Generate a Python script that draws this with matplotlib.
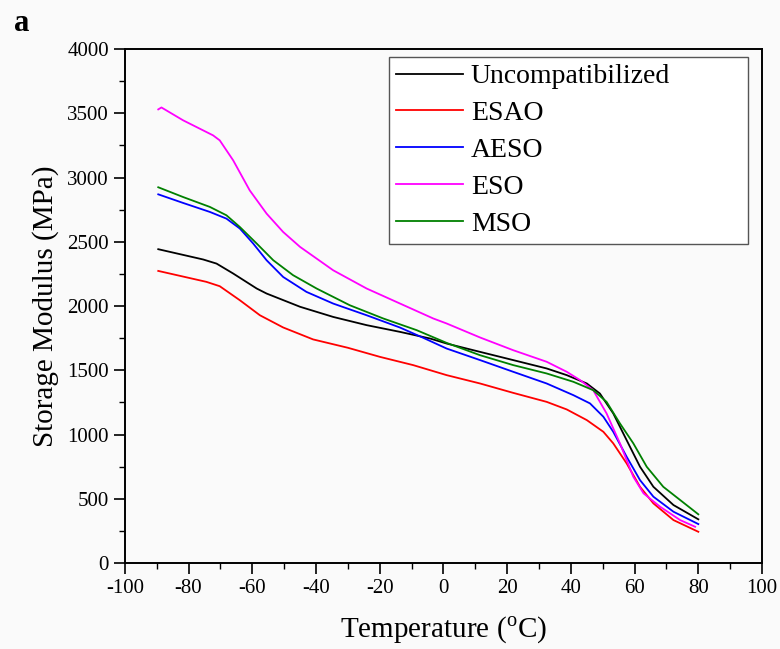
import numpy as np
import matplotlib
matplotlib.use("Agg")
import matplotlib.pyplot as plt
from matplotlib.ticker import MultipleLocator

# Data (temperature in C, storage modulus in MPa)
temp_unc = [-89.5, -75.4, -71.2, -66.0, -58.6, -55.5, -45.0, -34.6, -24.1, -13.7, -4.2,
            1.0, 11.5, 21.9, 32.4, 38.7, 45.0, 49.1, 53.3, 57.5, 61.7, 65.9, 72.2, 80.0]
mod_unc = [2442, 2362, 2330, 2253, 2136, 2097, 1994, 1915, 1851, 1799, 1747,
           1708, 1643, 1579, 1514, 1462, 1397, 1319, 1164, 956, 749, 593, 451, 340]

temp_esao = [-89.5, -74.4, -70.2, -63.9, -57.6, -50.3, -40.9, -30.0, -19.9, -9.5, 1.0,
             11.5, 21.9, 32.4, 38.7, 45.0, 50.2, 53.3, 57.5, 61.7, 65.9, 72.2, 80.0]
mod_esao = [2273, 2188, 2154, 2045, 1928, 1833, 1740, 1675, 1604, 1540, 1462,
            1397, 1324, 1254, 1195, 1112, 1021, 931, 775, 593, 464, 334, 243]

temp_aeso = [-89.5, -81.7, -73.3, -68.1, -63.9, -59.7, -55.5, -50.3, -43.0, -34.6, -24.1,
             -13.7, -6.3, 1.0, 11.5, 21.9, 32.4, 40.8, 46.0, 50.2, 53.3, 57.5, 61.7,
             65.9, 72.2, 80.0]
mod_aeso = [2869, 2802, 2732, 2680, 2603, 2486, 2356, 2226, 2110, 2019, 1928,
            1833, 1752, 1669, 1579, 1488, 1397, 1306, 1242, 1138, 1021, 827, 645,
            516, 399, 303]

temp_eso = [-89.5, -88.5, -81.7, -72.3, -70.2, -66.0, -60.8, -55.5, -50.3, -45.0, -34.6,
            -24.1, -13.7, -3.2, 1.0, 11.5, 21.9, 32.4, 38.7, 42.9, 47.0, 51.2, 55.4,
            59.6, 62.8, 68.0, 74.3, 79.0]
mod_eso = [3530, 3545, 3445, 3328, 3289, 3134, 2900, 2719, 2576, 2460, 2278,
           2136, 2020, 1903, 1864, 1755, 1656, 1566, 1488, 1423, 1345, 1164, 931,
           671, 542, 438, 334, 282]

temp_mso = [-89.5, -81.7, -73.3, -68.1, -63.9, -58.6, -53.4, -47.2, -39.8, -29.4, -18.9,
            -8.4, 1.0, 11.5, 21.9, 32.4, 40.8, 47.0, 51.2, 55.4, 59.6, 63.8, 69.0,
            74.3, 80.0]
mod_mso = [2924, 2848, 2771, 2706, 2615, 2486, 2356, 2240, 2136, 2006, 1903,
           1812, 1713, 1617, 1540, 1475, 1410, 1345, 1254, 1086, 931, 749, 593,
           490, 379]

plt.rcParams['font.family'] = ['Liberation Serif', 'DejaVu Serif']
plt.rcParams['mathtext.fontset'] = 'custom'
plt.rcParams['mathtext.rm'] = 'Liberation Serif'
plt.rcParams['axes.unicode_minus'] = False

fig = plt.figure(figsize=(7.8, 6.49), dpi=100, facecolor='#fafafa')
ax = fig.add_axes([0.160, 0.1325, 0.817, 0.792])
ax.set_facecolor('#fafafa')

ax.plot(temp_unc, mod_unc, color='black', lw=1.3, label='Uncompatibilized')
ax.plot(temp_esao, mod_esao, color='red', lw=1.3, label='ESAO')
ax.plot(temp_aeso, mod_aeso, color='blue', lw=1.3, label='AESO')
ax.plot(temp_eso, mod_eso, color='magenta', lw=1.3, label='ESO')
ax.plot(temp_mso, mod_mso, color='green', lw=1.3, label='MSO')

ax.set_xlim(-100, 100)
ax.set_ylim(0, 4000)
ax.xaxis.set_major_locator(MultipleLocator(20))
ax.xaxis.set_minor_locator(MultipleLocator(10))
ax.yaxis.set_major_locator(MultipleLocator(500))
ax.yaxis.set_minor_locator(MultipleLocator(250))
ax.tick_params(which='major', length=8, width=1.2, labelsize=15, direction='out')
ax.tick_params(which='minor', length=4, width=1.0, direction='out')
for s in ax.spines.values():
    s.set_linewidth(1.4)

ax.set_xlabel('Temperature ($^{\\rm o}$C)', fontsize=21, labelpad=12)
ax.set_ylabel('Storage Modulus (MPa)', fontsize=21, labelpad=6)

leg = ax.legend(loc='upper left', bbox_to_anchor=(0.4145, 0.6245, 0.5636, 0.36),
                mode='expand', borderaxespad=0, fontsize=20, handlelength=2.4,
                handletextpad=0.3, labelspacing=0.41, borderpad=0.25,
                fancybox=False, framealpha=1)
leg.get_frame().set_edgecolor('#555555')
leg.get_frame().set_linewidth(1.0)

fig.text(0.018, 0.952, 'a', fontsize=22, fontweight='bold')

fig.savefig('out.png', dpi=100, facecolor=fig.get_facecolor())
